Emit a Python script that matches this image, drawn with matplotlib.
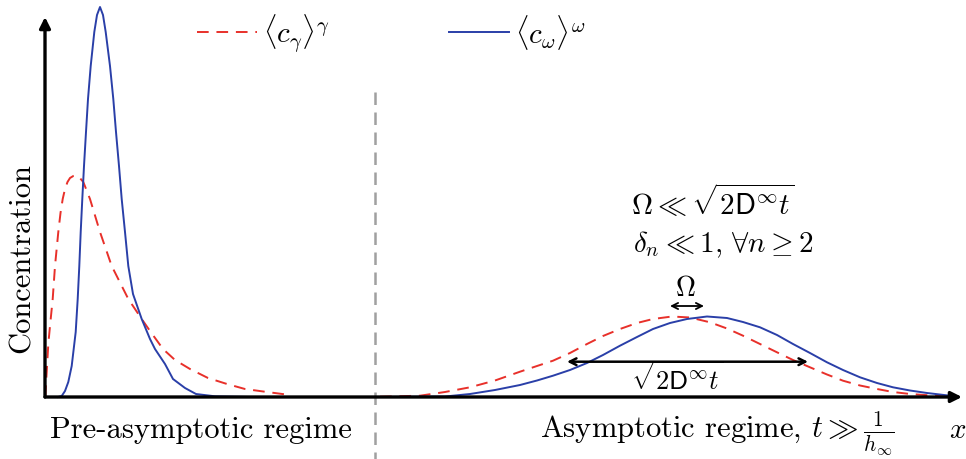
import matplotlib
matplotlib.use('Agg')
import matplotlib.pyplot as plt

plt.rcParams['mathtext.fontset'] = 'cm'
plt.rcParams['axes.unicode_minus'] = False

# Concentration profiles (x in arbitrary length units)
pre_gamma_x = [0.003, 0.017, 0.033, 0.05, 0.077, 0.10, 0.133, 0.155, 0.177, 0.20, 0.225, 0.25,
               0.283, 0.31, 0.34, 0.383, 0.45, 0.55, 0.667, 0.833, 0.967, 1.05, 1.18, 1.30,
               1.45, 1.63, 1.82, 2.0, 2.22, 2.45]
pre_gamma_c = [0.0, 0.25, 0.53, 0.71, 0.98, 1.31, 1.65, 1.84, 1.98, 2.08, 2.15, 2.19,
               2.21, 2.215, 2.20, 2.15, 1.98, 1.65, 1.31, 0.98, 0.78, 0.66, 0.48, 0.37,
               0.28, 0.19, 0.13, 0.08, 0.05, 0.02]

pre_omega_x = [0.13, 0.167, 0.20, 0.233, 0.267, 0.307, 0.327, 0.343, 0.357, 0.373, 0.39, 0.41,
               0.43, 0.457, 0.493, 0.52, 0.55, 0.58, 0.607, 0.65, 0.683, 0.71, 0.74, 0.767,
               0.80, 0.833, 0.88, 0.967, 1.05, 1.10, 1.20, 1.28, 1.40, 1.51, 1.70, 2.05]
pre_omega_c = [0.0, 0.01, 0.06, 0.15, 0.31, 0.65, 0.98, 1.31, 1.65, 1.98, 2.31, 2.65,
               2.98, 3.31, 3.65, 3.82, 3.90, 3.82, 3.65, 3.31, 2.98, 2.65, 2.31, 1.98,
               1.65, 1.31, 1.03, 0.78, 0.58, 0.48, 0.33, 0.18, 0.09, 0.03, 0.007, 0.0]

asym_gamma_x = [3.35, 3.75, 4.0, 4.25, 4.5, 4.75, 4.92, 5.08, 5.25, 5.42, 5.58, 5.75, 5.92,
                6.08, 6.27, 6.45, 6.65, 6.82, 6.98, 7.15, 7.32, 7.48, 7.65, 7.82, 7.98,
                8.15, 8.32, 8.48, 8.65, 8.98]
asym_gamma_c = [0.003, 0.013, 0.05, 0.097, 0.165, 0.253, 0.31, 0.363, 0.44, 0.53, 0.61, 0.68, 0.74,
                0.78, 0.805, 0.795, 0.747, 0.685, 0.613, 0.53, 0.447, 0.37, 0.297, 0.225, 0.163,
                0.115, 0.08, 0.05, 0.03, 0.007]

asym_omega_x = [3.35, 4.0, 4.25, 4.5, 4.75, 4.92, 5.08, 5.25, 5.42, 5.58, 5.75, 5.92, 6.08,
                6.25, 6.42, 6.62, 6.82, 6.98, 7.15, 7.32, 7.48, 7.65, 7.82, 7.98, 8.15,
                8.32, 8.48, 8.65, 8.82, 9.05]
asym_omega_c = [0.0, 0.005, 0.03, 0.07, 0.12, 0.165, 0.213, 0.27, 0.34, 0.42, 0.513, 0.60, 0.68,
                0.74, 0.78, 0.805, 0.79, 0.75, 0.697, 0.62, 0.53, 0.44, 0.347, 0.27, 0.197,
                0.14, 0.097, 0.065, 0.04, 0.013]

RED = '#e8302a'
BLUE = '#2a3fa8'
CM = 'cmr10'
DASH = (6, 4)

fig = plt.figure(figsize=(9.66, 4.60), dpi=100)
ax = fig.add_axes([0, 0, 1, 1])
ax.set_xlim(-0.45, 9.21)
ax.set_ylim(-0.62, 3.98)
ax.axis('off')

# curves
ax.plot(pre_gamma_x, pre_gamma_c, color=RED, lw=1.4, dashes=DASH, label=r'$\langle c_\gamma\rangle^\gamma$')
ax.plot(asym_gamma_x, asym_gamma_c, color=RED, lw=1.4, dashes=DASH)
ax.plot(pre_omega_x, pre_omega_c, color=BLUE, lw=1.4, label=r'$\langle c_\omega\rangle^\omega$')
ax.plot(asym_omega_x, asym_omega_c, color=BLUE, lw=1.4)

# axes with arrows
ax.annotate('', xy=(9.17, 0), xytext=(0, 0),
            arrowprops=dict(arrowstyle='-|>', lw=2.4, color='black', mutation_scale=16,
                            shrinkA=0, shrinkB=0))
ax.annotate('', xy=(0, 3.80), xytext=(0, 0),
            arrowprops=dict(arrowstyle='-|>', lw=2.4, color='black', mutation_scale=16,
                            shrinkA=0, shrinkB=0))

# regime separator
ax.plot([3.30, 3.30], [3.05, -0.62], color='#a0a0a0', lw=1.8, dashes=(5, 3))

# widths
ax.annotate('', xy=(6.25, 0.91), xytext=(6.59, 0.91),
            arrowprops=dict(arrowstyle='<->', lw=1.3, color='black', mutation_scale=11,
                            shrinkA=0, shrinkB=0))
ax.annotate('', xy=(5.22, 0.353), xytext=(7.63, 0.353),
            arrowprops=dict(arrowstyle='<->', lw=1.8, color='black', mutation_scale=12,
                            shrinkA=0, shrinkB=0))

ax.text(6.40, 1.10, r'$\Omega$', fontsize=20, ha='center', va='center')
ax.text(6.32, 0.18, r'$\sqrt{2\mathsf{D}^{\infty} t}$', fontsize=19, ha='center', va='center')
ax.text(6.68, 1.96, r'$\Omega \ll \sqrt{2\mathsf{D}^{\infty} t}$', fontsize=21, ha='center', va='center')
ax.text(6.78, 1.53, r'$\delta_n \ll 1,\, \forall n \geq 2$', fontsize=21, ha='center', va='center')

# labels
ax.text(-0.23, 1.40, 'Concentration', family=CM, fontsize=22, rotation=90, ha='center', va='center')
ax.text(1.56, -0.40, 'Pre-asymptotic regime', family=CM, fontsize=22, ha='center', va='baseline')
ax.text(6.72, -0.40, r'Asymptotic regime, $t \gg \frac{1}{h_\infty}$', family=CM, fontsize=22,
        ha='center', va='baseline')
ax.text(9.13, -0.40, r'$x$', fontsize=21, ha='center', va='baseline')

ax.legend(loc='upper left', bbox_to_anchor=(197 / 966, 1 - 12 / 460), ncol=2, frameon=False,
          fontsize=21, borderpad=0, borderaxespad=0, handlelength=2.05, handletextpad=0.2,
          columnspacing=4.1)

fig.savefig('out.png', dpi=100)
